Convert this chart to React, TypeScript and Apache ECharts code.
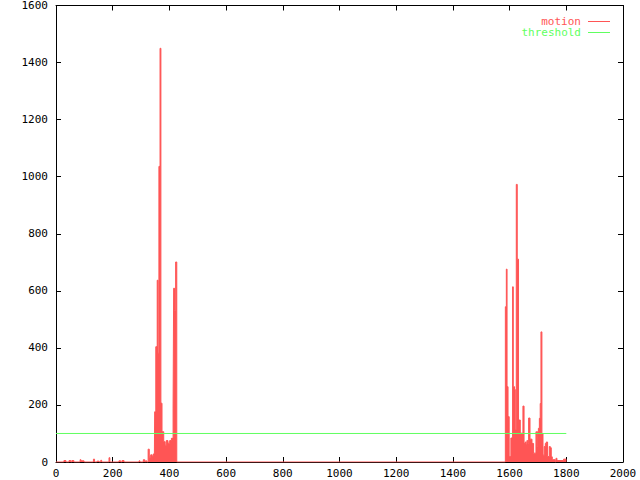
import React, { useEffect, useRef } from 'react';
import * as echarts from 'echarts';

// motion samples (x = frame, y = motion); values hold until next sample (step)
const noiseX = [0, 28, 35, 46, 52, 56, 63, 85, 88, 99, 132, 136, 145, 152, 158, 161, 187, 190, 222, 228, 233, 240, 293, 296, 308, 313, 316, 320];
const noiseY = [0, 5, 0, 5, 0, 5, 0, 8, 4, 0, 10, 0, 3, 0, 6, 0, 15, 0, 4, 0, 5, 0, 4, 0, 8, 0, 4, 0];

const cluster1X = [325, 329, 334, 339, 343, 347, 348, 352, 357, 360, 363, 367, 370, 374, 380, 385, 389, 395, 401, 407, 413, 415, 418, 422, 426];
const cluster1Y = [45, 17, 25, 20, 28, 10, 176, 404, 637, 381, 1036, 1450, 206, 106, 71, 59, 75, 66, 75, 83, 189, 609, 532, 701, 0];

const cluster2X = [1585, 1588.5, 1591, 1594.5, 1598.5, 1604.5, 1610.5, 1613, 1617.5, 1620, 1623.6, 1627, 1631.5, 1637.7, 1647, 1651, 1655, 1658, 1661, 1664, 1667, 1672, 1679, 1684.6, 1693, 1695.5, 1698, 1701.5, 1705, 1708, 1710.6, 1714, 1717.8, 1722, 1726, 1729.4, 1734, 1740, 1743.5, 1747, 1750.6, 1761, 1763.6, 1767, 1790.4, 1799, 1800];
const cluster2Y = [544, 676, 264, 159, 19, 84, 614, 264, 254, 112, 973, 711, 147, 101, 196, 65, 70, 62, 75, 66, 154, 80, 65, 31, 106, 54, 106, 118, 153, 205, 456, 100, 24, 54, 65, 70, 19, 54, 50, 18, 8, 0, 13, 5, 10, 0, 0];

const thresholdX = [0, 1800];
const thresholdY = [100, 100];

const seriesNames = ['motion', 'threshold'];

const RED = '#ff5555';
const GREEN = '#60ff60';
const FONT = "'DejaVu Sans Mono', 'Liberation Mono', monospace";

function zip(xs: number[], ys: number[]) {
  return xs.map((x, i) => [x, ys[i]]);
}

export default function App() {
  const ref = useRef<HTMLDivElement>(null);
  useEffect(() => {
    if (!ref.current) return;
    const chart = echarts.init(ref.current, undefined, { renderer: 'svg' });
    const motionData = [
      ...zip(noiseX, noiseY),
      ...zip(cluster1X, cluster1Y),
      ...zip(cluster2X, cluster2Y),
    ];
    const label = { color: '#000', fontFamily: FONT, fontSize: 11, formatter: (v: number) => String(v) };
    const tick = { show: true, inside: true, length: 5, lineStyle: { color: '#000', width: 1 } };
    const line = { show: true, onZero: false, lineStyle: { color: '#000', width: 1 } };
    chart.setOption({
      animation: false,
      backgroundColor: '#fff',
      grid: { left: 56, right: 17, top: 5, bottom: 18, containLabel: false },
      xAxis: [
        { type: 'value', min: 0, max: 2000, interval: 200, position: 'bottom', splitLine: { show: false }, axisLine: line, axisTick: tick, axisLabel: { ...label, margin: 6 } },
        { type: 'value', min: 0, max: 2000, interval: 200, position: 'top', splitLine: { show: false }, axisLine: line, axisTick: tick, axisLabel: { show: false } },
      ],
      yAxis: [
        { type: 'value', min: 0, max: 1600, interval: 200, position: 'left', splitLine: { show: false }, axisLine: line, axisTick: tick, axisLabel: { ...label, margin: 8 } },
        { type: 'value', min: 0, max: 1600, interval: 200, position: 'right', splitLine: { show: false }, axisLine: line, axisTick: tick, axisLabel: { show: false } },
      ],
      series: [
        {
          name: seriesNames[0],
          type: 'line',
          step: 'end',
          data: motionData,
          symbol: 'none',
          lineStyle: { color: RED, width: 1 },
          itemStyle: { color: RED },
          areaStyle: { color: RED, opacity: 1 },
          z: 3,
        },
        {
          name: seriesNames[1],
          type: 'line',
          data: zip(thresholdX, thresholdY),
          symbol: 'none',
          lineStyle: { color: GREEN, width: 1 },
          itemStyle: { color: GREEN },
          z: 4,
        },
      ],
      graphic: [
        { type: 'text', x: 581, y: 21, style: { text: seriesNames[0], fill: RED, font: `11px ${FONT}`, lineHeight: 10, textAlign: 'right', textVerticalAlign: 'middle' } },
        { type: 'line', shape: { x1: 588, y1: 21.5, x2: 610, y2: 21.5 }, style: { stroke: RED, lineWidth: 1 } },
        { type: 'text', x: 581, y: 32.5, style: { text: seriesNames[1], fill: GREEN, font: `11px ${FONT}`, lineHeight: 10, textAlign: 'right', textVerticalAlign: 'middle' } },
        { type: 'line', shape: { x1: 588, y1: 32.5, x2: 610, y2: 32.5 }, style: { stroke: GREEN, lineWidth: 1 } },
      ],
    });
    return () => chart.dispose();
  }, []);
  return <div ref={ref} style={{ position: 'absolute', left: 0, top: 0, width: 640, height: 480 }} />;
}
